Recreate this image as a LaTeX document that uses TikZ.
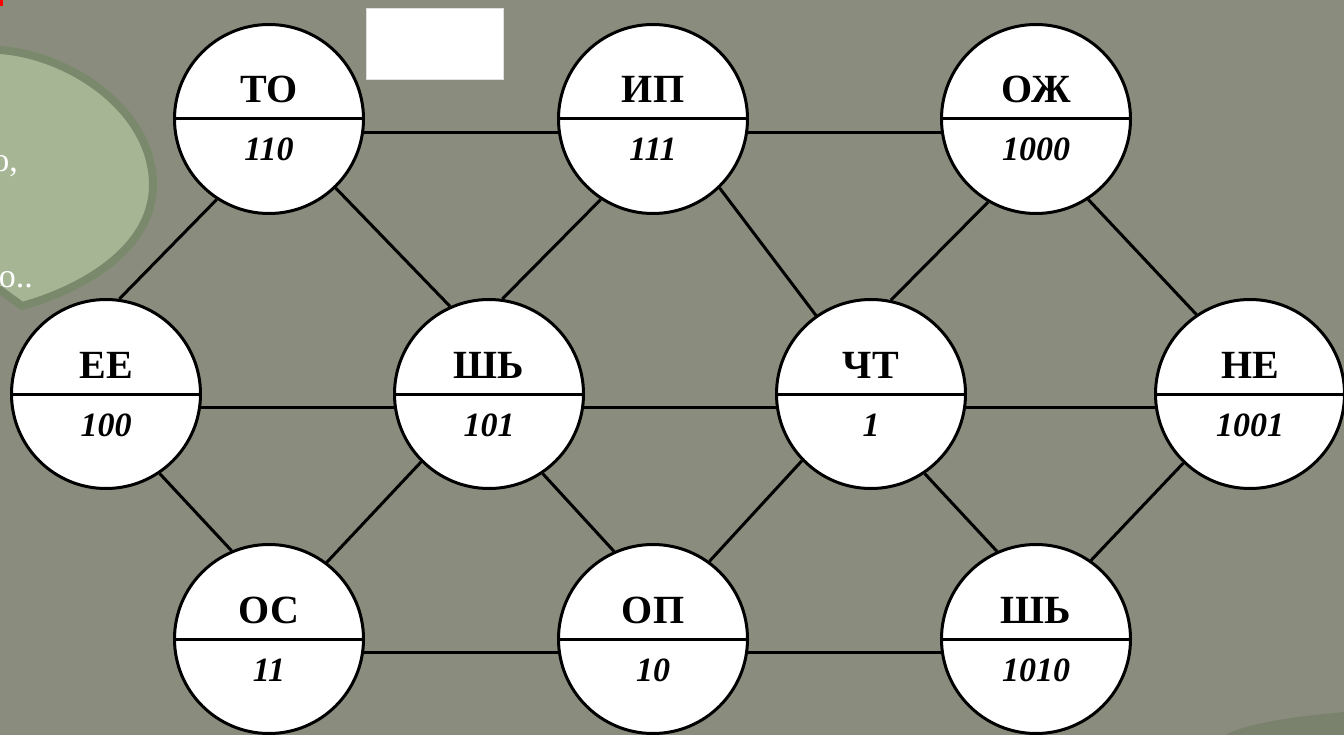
\documentclass[tikz,border=0pt]{standalone}
\usepackage{fontspec}
\setmainfont{Liberation Serif}
\definecolor{bg}{RGB}{138,141,126}
\definecolor{bubblefill}{RGB}{166,181,147}
\definecolor{bubbleline}{RGB}{122,137,107}
\definecolor{patch}{RGB}{112,124,100}
\tikzset{
  vert/.style={circle, draw=black, line width=3pt, fill=white, minimum size=189pt, inner sep=0pt,
    path picture={\draw[line width=3pt] (path picture bounding box.west) -- (path picture bounding box.east);}},
  toplab/.style={anchor=base, inner sep=0pt, font=\fontsize{40}{42}\selectfont\bfseries},
  numlab/.style={anchor=base, inner sep=0pt, font=\fontsize{34}{36}\selectfont\bfseries\itshape},
  conn/.style={line width=3pt, black},
  bubbletext/.style={anchor=base east, inner sep=0pt, text=white, font=\fontsize{34}{36}\selectfont}
}
\begin{document}
\begin{tikzpicture}[x=1pt,y=-1pt]
\useasboundingbox (0,0) rectangle (1344,735);
\fill[bg] (0,0) rectangle (1344,735);
\fill[patch, opacity=0.6] (1225,735) .. controls (1250,722) and (1300,716) .. (1344,712) -- (1344,735) -- cycle;
\fill[red] (0,0) rectangle (3,6);

% speech bubble
\draw[bubbleline, fill=bubblefill, line width=8pt, line join=round]
  (-10,50) -- (0,50) .. controls (70,55) and (153,110) .. (153,185)
  .. controls (153,250) and (80,290) .. (22,306) -- (0,290) -- (-10,290) -- cycle;
\node[bubbletext] (bt1) at (18,172) {о,};
\node[bubbletext] (bt2) at (33,288) {о..};

% blank white rectangle
\node[draw=gray!25, fill=white, line width=1pt, minimum width=137pt, minimum height=71pt, inner sep=0pt] (blank) at (434.5,44.5) {};

% vertices
\node[vert] (TO)  at (269,119) {};
\node[vert] (IP)  at (653,119) {};
\node[vert] (OZH) at (1036,119) {};
\node[vert] (EE)  at (106,394) {};
\node[vert] (SH1) at (489,394) {};
\node[vert] (CHT) at (871,394) {};
\node[vert] (NE)  at (1250,394) {};
\node[vert] (OS)  at (269,639) {};
\node[vert] (OP)  at (653,639) {};
\node[vert] (SH2) at (1036,639) {};

% labels
\foreach \n/\t/\b in {TO/ТО/110, IP/ИП/111, OZH/ОЖ/1000, EE/ЕЕ/100, SH1/ШЬ/101, CHT/ЧТ/1, NE/НЕ/1001, OS/ОС/11, OP/ОП/10, SH2/ШЬ/1010}{
  \node[toplab] (\n-t) at ([yshift=16pt]\n.center) {\t};
  \node[numlab] (\n-b) at ([yshift=-42pt]\n.center) {\b};
}

% horizontal connectors
\draw[conn] (TO.352) -- (IP.188);
\draw[conn] (IP.352) -- (OZH.188);
\draw[conn] (EE.352) -- (SH1.188);
\draw[conn] (SH1.352) -- (CHT.188);
\draw[conn] (CHT.352) -- (NE.188);
\draw[conn] (OS.352) -- (OP.188);
\draw[conn] (OP.352) -- (SH2.188);
% diagonal connectors
\draw[conn] (TO.237) -- (EE.82);
\draw[conn] (TO.314) -- (SH1.114);
\draw[conn] (IP.237) -- (SH1.82);
\draw[conn] (IP.314) -- (CHT.125);
\draw[conn] (OZH.240) -- (CHT.78);
\draw[conn] (OZH.303) -- (NE.124);
\draw[conn] (EE.304) -- (OS.113);
\draw[conn] (SH1.225) -- (OS.53);
\draw[conn] (SH1.304) -- (OP.114);
\draw[conn] (CHT.224) -- (OP.54);
\draw[conn] (CHT.304) -- (SH2.114);
\draw[conn] (NE.226) -- (SH2.55);
\end{tikzpicture}
\end{document}
